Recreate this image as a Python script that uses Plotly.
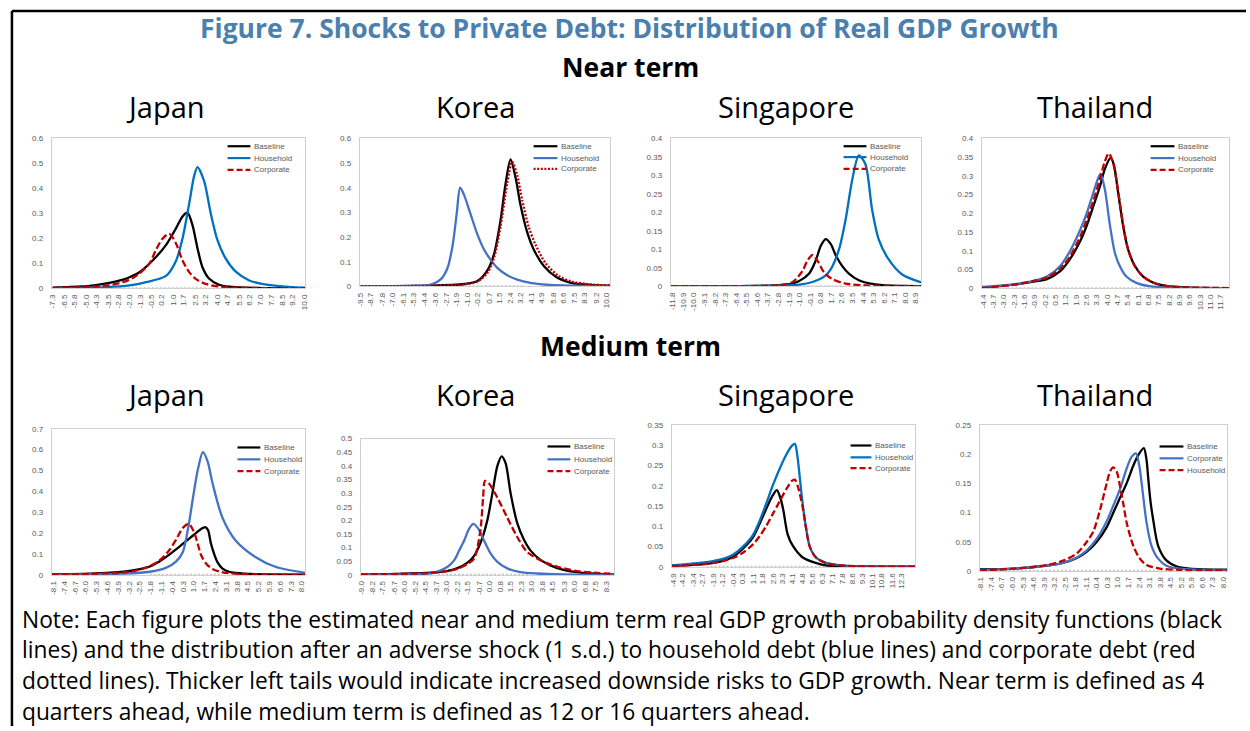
import plotly.graph_objects as go

W, H = 1250, 731

# ------------------------------------------------------------------ DATA ----
# x tick labels (GDP growth, %)
jp_nt_ticks = [-7.3, -6.5, -5.8, -5.0, -4.3, -3.5, -2.8, -2.0, -1.3, -0.5, 0.2, 1.0, 1.7, 2.5, 3.2, 4.0, 4.7, 5.5, 6.2, 7.0, 7.7, 8.5, 9.2, 10.0]
kr_nt_ticks = [-9.5, -8.7, -7.8, -7.0, -6.1, -5.3, -4.4, -3.6, -2.7, -1.9, -1.0, -0.2, 0.7, 1.5, 2.4, 3.2, 4.1, 4.9, 5.8, 6.6, 7.5, 8.3, 9.2, 10.0]
sg_nt_ticks = [-11.8, -10.9, -10.0, -9.1, -8.2, -7.3, -6.4, -5.5, -4.6, -3.7, -2.8, -1.9, -1.0, -0.1, 0.8, 1.7, 2.6, 3.5, 4.4, 5.3, 6.2, 7.1, 8.0, 8.9]
th_nt_ticks = [-4.4, -3.7, -3.0, -2.3, -1.6, -0.9, -0.2, 0.5, 1.2, 1.9, 2.6, 3.3, 4.0, 4.7, 5.4, 6.1, 6.8, 7.5, 8.2, 8.9, 9.6, 10.3, 11.0, 11.7]
jp_mt_ticks = [-8.1, -7.4, -6.7, -6.0, -5.3, -4.6, -3.9, -3.2, -2.5, -1.8, -1.1, -0.4, 0.3, 1.0, 1.7, 2.4, 3.1, 3.8, 4.5, 5.2, 5.9, 6.6, 7.3, 8.0]
kr_mt_ticks = [-9.0, -8.2, -7.5, -6.7, -6.0, -5.2, -4.5, -3.7, -3.0, -2.2, -1.5, -0.7, 0.0, 0.8, 1.5, 2.3, 3.0, 3.8, 4.5, 5.3, 6.0, 6.8, 7.5, 8.3]
sg_mt_ticks = [-4.9, -4.2, -3.4, -2.7, -1.9, -1.2, -0.4, 0.3, 1.1, 1.8, 2.6, 3.3, 4.1, 4.8, 5.6, 6.3, 7.1, 7.8, 8.6, 9.3, 10.1, 10.8, 11.6, 12.3]
th_mt_ticks = [-8.1, -7.4, -6.7, -6.0, -5.3, -4.6, -3.9, -3.2, -2.5, -1.8, -1.1, -0.4, 0.3, 1.0, 1.7, 2.4, 3.1, 3.8, 4.5, 5.2, 5.9, 6.6, 7.3, 8.0]

# Japan, near term
jp_nt_base_x = [-7.3, -4.75, -3.61, -2.47, -1.91, -1.34, -0.20, 0.48, 1.17, 1.62, 1.96, 2.30, 2.65, 2.99, 3.44, 4.13, 4.81, 6.63, 10.04]
jp_nt_base_y = [0.003, 0.010, 0.020, 0.035, 0.048, 0.065, 0.126, 0.173, 0.240, 0.288, 0.303, 0.254, 0.160, 0.085, 0.040, 0.015, 0.007, 0.002, 0.001]
jp_nt_hh_x = [-7.3, -3.61, -2.02, -0.88, 0.48, 1.17, 1.62, 2.08, 2.42, 2.65, 3.10, 3.56, 4.01, 4.58, 5.26, 6.17, 7.08, 8.91, 10.04]
jp_nt_hh_y = [0.001, 0.005, 0.012, 0.025, 0.050, 0.110, 0.200, 0.340, 0.450, 0.485, 0.430, 0.300, 0.195, 0.120, 0.068, 0.033, 0.018, 0.006, 0.003]
jp_nt_corp_x = [-7.3, -3.61, -2.47, -1.79, -1.34, -0.65, -0.20, 0.26, 0.71, 1.17, 1.62, 2.08, 2.53, 3.22, 4.35, 6.63, 10.04]
jp_nt_corp_y = [0.002, 0.012, 0.025, 0.042, 0.060, 0.100, 0.155, 0.200, 0.218, 0.180, 0.112, 0.065, 0.038, 0.018, 0.006, 0.002, 0.001]

# Korea, near term
kr_nt_base_x = [-9.5, -3.91, -1.28, -0.22, 0.57, 1.09, 1.62, 2.01, 2.41, 2.81, 3.20, 3.73, 4.25, 5.05, 6.10, 7.15, 8.73, 10.32]
kr_nt_base_y = [0.001, 0.003, 0.010, 0.022, 0.065, 0.130, 0.270, 0.415, 0.515, 0.440, 0.330, 0.220, 0.150, 0.083, 0.036, 0.016, 0.006, 0.003]
kr_nt_hh_x = [-9.5, -5.23, -3.91, -3.12, -2.60, -2.20, -1.86, -1.60, -1.28, -0.75, -0.22, 0.30, 0.83, 1.36, 2.15, 2.94, 3.99, 5.31, 6.63, 10.32]
kr_nt_hh_y = [0.001, 0.003, 0.008, 0.030, 0.075, 0.165, 0.300, 0.400, 0.370, 0.290, 0.210, 0.150, 0.108, 0.075, 0.045, 0.028, 0.015, 0.007, 0.004, 0.001]
kr_nt_corp_x = [-9.5, -3.91, -1.28, -0.22, 0.57, 1.09, 1.62, 2.15, 2.54, 2.94, 3.33, 3.86, 4.39, 5.18, 6.23, 7.28, 8.87, 10.32]
kr_nt_corp_y = [0.001, 0.003, 0.009, 0.020, 0.055, 0.115, 0.245, 0.420, 0.505, 0.450, 0.350, 0.240, 0.170, 0.095, 0.043, 0.020, 0.008, 0.004]

# Singapore, near term
sg_nt_base_x = [-11.97, -6.10, -2.16, -1.03, -0.18, 0.38, 0.81, 1.23, 1.65, 2.07, 2.64, 3.20, 4.05, 5.18, 6.87, 9.35]
sg_nt_base_y = [0.001, 0.001, 0.005, 0.015, 0.035, 0.070, 0.110, 0.128, 0.115, 0.085, 0.055, 0.035, 0.017, 0.007, 0.002, 0.001]
sg_nt_hh_x = [-11.97, -1.03, 0.10, 1.23, 1.65, 2.36, 2.92, 3.48, 4.05, 4.61, 5.18, 5.74, 6.59, 7.71, 9.35]
sg_nt_hh_y = [0.001, 0.005, 0.012, 0.030, 0.046, 0.100, 0.180, 0.287, 0.354, 0.330, 0.207, 0.127, 0.073, 0.033, 0.011]
sg_nt_corp_x = [-11.97, -2.72, -1.59, -0.75, -0.32, 0.10, 0.52, 1.09, 1.79, 2.92, 4.61, 9.35]
sg_nt_corp_y = [0.001, 0.004, 0.012, 0.042, 0.070, 0.085, 0.070, 0.038, 0.020, 0.008, 0.003, 0.001]

# Thailand, near term
th_nt_base_x = [-4.49, -2.31, -0.97, -0.07, 0.83, 1.50, 2.17, 2.62, 3.07, 3.52, 3.85, 4.24, 4.46, 4.75, 5.09, 5.42, 5.87, 6.43, 7.11, 8.00, 9.35, 12.27]
th_nt_base_y = [0.002, 0.010, 0.018, 0.025, 0.046, 0.079, 0.125, 0.167, 0.219, 0.272, 0.318, 0.348, 0.330, 0.256, 0.167, 0.105, 0.061, 0.032, 0.016, 0.007, 0.003, 0.001]
th_nt_hh_x = [-4.49, -2.31, -0.97, -0.07, 0.83, 1.50, 2.17, 2.62, 3.07, 3.41, 3.56, 3.85, 4.19, 4.53, 4.86, 5.31, 5.99, 6.88, 8.45, 12.27]
th_nt_hh_y = [0.004, 0.011, 0.020, 0.032, 0.060, 0.100, 0.155, 0.200, 0.255, 0.295, 0.305, 0.265, 0.170, 0.095, 0.060, 0.032, 0.015, 0.006, 0.002, 0.001]
th_nt_corp_x = [-4.49, -2.31, -0.97, -0.07, 0.83, 1.50, 2.17, 2.62, 3.07, 3.52, 3.85, 4.12, 4.41, 4.75, 5.09, 5.42, 5.87, 6.43, 7.11, 8.00, 9.35, 12.27]
th_nt_corp_y = [0.001, 0.010, 0.020, 0.029, 0.052, 0.086, 0.137, 0.182, 0.233, 0.292, 0.338, 0.360, 0.335, 0.260, 0.170, 0.105, 0.060, 0.032, 0.016, 0.007, 0.003, 0.001]

# Japan, medium term
jp_mt_base_x = [-8.21, -5.70, -3.56, -2.49, -1.85, -1.21, -0.57, 0.07, 0.72, 1.14, 1.47, 1.74, 1.92, 2.11, 2.32, 2.54, 2.86, 3.28, 3.71, 5.00, 8.21]
jp_mt_base_y = [0.003, 0.006, 0.015, 0.028, 0.040, 0.065, 0.098, 0.135, 0.175, 0.200, 0.220, 0.229, 0.215, 0.150, 0.100, 0.060, 0.030, 0.015, 0.009, 0.003, 0.001]
jp_mt_hh_x = [-8.21, -3.56, -1.85, -0.78, -0.14, 0.29, 0.67, 0.97, 1.25, 1.59, 1.89, 2.21, 2.85, 3.71, 4.99, 6.28, 8.21]
jp_mt_hh_y = [0.001, 0.006, 0.015, 0.035, 0.065, 0.110, 0.240, 0.380, 0.500, 0.588, 0.545, 0.440, 0.275, 0.165, 0.086, 0.039, 0.010]
jp_mt_corp_x = [-8.21, -3.56, -2.49, -1.85, -1.21, -0.57, -0.14, 0.29, 0.67, 1.04, 1.25, 1.47, 1.79, 2.21, 2.86, 3.93, 5.00, 8.21]
jp_mt_corp_y = [0.001, 0.012, 0.025, 0.042, 0.070, 0.120, 0.170, 0.225, 0.245, 0.200, 0.150, 0.095, 0.055, 0.028, 0.012, 0.005, 0.002, 0.001]

# Korea, medium term
kr_mt_base_x = [-9.05, -6.43, -4.09, -2.92, -2.22, -1.52, -1.05, -0.58, -0.12, 0.24, 0.59, 0.89, 1.17, 1.52, 1.99, 2.46, 2.92, 3.63, 4.33, 5.26, 6.43, 7.60, 8.82]
kr_mt_base_y = [0.002, 0.004, 0.008, 0.015, 0.025, 0.045, 0.070, 0.120, 0.200, 0.300, 0.400, 0.435, 0.410, 0.300, 0.190, 0.130, 0.090, 0.055, 0.035, 0.018, 0.008, 0.004, 0.002]
kr_mt_hh_x = [-9.05, -5.26, -4.09, -2.92, -2.45, -2.10, -1.75, -1.40, -1.10, -0.70, -0.35, 0.12, 0.59, 1.29, 2.22, 3.39, 5.26, 8.82]
kr_mt_hh_y = [0.001, 0.003, 0.006, 0.030, 0.054, 0.090, 0.126, 0.170, 0.187, 0.165, 0.126, 0.078, 0.048, 0.024, 0.010, 0.005, 0.002, 0.001]
kr_mt_corp_x = [-9.05, -4.09, -2.92, -2.22, -1.52, -1.05, -0.82, -0.58, -0.42, -0.28, 0.00, 0.59, 1.29, 1.99, 2.69, 3.39, 4.09, 5.03, 6.20, 7.60, 8.82]
kr_mt_corp_y = [0.001, 0.007, 0.014, 0.022, 0.040, 0.060, 0.100, 0.175, 0.280, 0.345, 0.335, 0.283, 0.210, 0.139, 0.084, 0.060, 0.043, 0.027, 0.014, 0.007, 0.004]

# Singapore, medium term
sg_mt_base_x = [-5.02, -2.41, -1.16, -0.41, 0.34, 1.08, 1.58, 2.08, 2.58, 2.90, 3.20, 3.38, 3.70, 4.08, 4.82, 5.82, 6.57, 7.57, 13.30]
sg_mt_base_y = [0.003, 0.008, 0.015, 0.025, 0.045, 0.072, 0.105, 0.142, 0.176, 0.189, 0.165, 0.140, 0.081, 0.053, 0.024, 0.010, 0.004, 0.002, 0.001]
sg_mt_hh_x = [-5.02, -2.41, -1.16, -0.41, 0.34, 1.08, 1.58, 2.08, 2.58, 3.08, 3.58, 4.02, 4.25, 4.45, 4.62, 4.82, 5.07, 5.37, 5.82, 6.57, 8.06, 13.30]
sg_mt_hh_y = [0.004, 0.012, 0.020, 0.030, 0.050, 0.078, 0.112, 0.155, 0.200, 0.240, 0.275, 0.298, 0.303, 0.270, 0.220, 0.160, 0.100, 0.050, 0.024, 0.010, 0.003, 0.001]
sg_mt_corp_x = [-5.02, -2.41, -1.16, -0.41, 0.34, 1.08, 1.58, 2.08, 2.58, 3.08, 3.58, 4.02, 4.25, 4.50, 4.82, 5.07, 5.37, 5.82, 6.57, 8.06, 13.30]
sg_mt_corp_y = [0.002, 0.008, 0.015, 0.022, 0.035, 0.055, 0.075, 0.100, 0.130, 0.160, 0.190, 0.212, 0.215, 0.195, 0.150, 0.100, 0.050, 0.024, 0.010, 0.003, 0.001]

# Thailand, medium term (legend order: Baseline, Corporate, Household)
th_mt_base_x = [-8.17, -5.90, -3.70, -2.60, -1.72, -1.06, -0.40, 0.26, 0.70, 1.14, 1.58, 2.02, 2.35, 2.72, 2.90, 3.01, 3.16, 3.34, 3.67, 4.22, 4.88, 5.76, 8.25]
th_mt_base_y = [0.003, 0.004, 0.009, 0.014, 0.022, 0.033, 0.050, 0.075, 0.100, 0.125, 0.150, 0.180, 0.198, 0.210, 0.190, 0.160, 0.120, 0.088, 0.043, 0.018, 0.008, 0.004, 0.002]
th_mt_corp_x = [-8.17, -5.90, -3.70, -2.60, -1.72, -1.06, -0.40, 0.26, 0.70, 1.14, 1.58, 1.91, 2.20, 2.42, 2.68, 2.90, 3.23, 3.67, 4.22, 5.10, 8.25]
th_mt_corp_y = [0.002, 0.004, 0.009, 0.014, 0.023, 0.035, 0.055, 0.085, 0.112, 0.140, 0.175, 0.195, 0.201, 0.180, 0.128, 0.083, 0.043, 0.021, 0.009, 0.004, 0.001]
th_mt_hh_x = [-8.17, -5.90, -3.70, -2.60, -1.72, -1.06, -0.62, -0.18, 0.26, 0.48, 0.70, 0.92, 1.14, 1.36, 1.58, 2.02, 2.46, 2.90, 3.78, 5.10, 8.25]
th_mt_hh_y = [0.001, 0.004, 0.010, 0.018, 0.030, 0.050, 0.068, 0.105, 0.150, 0.170, 0.177, 0.170, 0.145, 0.115, 0.083, 0.043, 0.021, 0.010, 0.004, 0.002, 0.001]

# light grey dotted band lying on the zero line (x extent)
jp_nt_zero = [-2.7, 3.4]
kr_nt_zero = [-9.5, 3.5]
sg_nt_zero = [-11.9, 2.6]
th_nt_zero = [-3.3, 7.6]
jp_mt_zero = [-1.85, 2.85]
kr_mt_zero = [-3.6, 2.9]
sg_mt_zero = [-2.4, 13.2]
th_mt_zero = [-8.1, 8.2]

# ------------------------------------------------------------- STYLES ------
BLACK = "#000000"
BLUE_A = "#0070C0"
BLUE_B = "#4472C4"
RED = "#C00000"
DASH = "7px,3px"
DOT = "2px,1.6px"
LEG_DASH = "6px,3px"
TICK_COL = "#595959"
FONT = "Open Sans"
SMALL = "Liberation Sans"

panels = [
    dict(dom=(48, 303, 136, 288), xr=(-7.37, 10.04), yr=(0, 0.6), dy=0.1, ticks=jp_nt_ticks, zero=jp_nt_zero,
         series=[("Baseline", jp_nt_base_x, jp_nt_base_y, BLACK, "solid"),
                 ("Household", jp_nt_hh_x, jp_nt_hh_y, BLUE_A, "solid"),
                 ("Corporate", jp_nt_corp_x, jp_nt_corp_y, RED, DASH)],
         leg=(225, 248, 250, [144, 156, 168])),
    dict(dom=(358, 610, 136, 286), xr=(-9.58, 10.32), yr=(0, 0.6), dy=0.1, ticks=kr_nt_ticks, zero=kr_nt_zero,
         series=[("Baseline", kr_nt_base_x, kr_nt_base_y, BLACK, "solid"),
                 ("Household", kr_nt_hh_x, kr_nt_hh_y, BLUE_B, "solid"),
                 ("Corporate", kr_nt_corp_x, kr_nt_corp_y, RED, DOT)],
         leg=(533, 557, 559, [144, 156, 167])),
    dict(dom=(671, 923, 136, 286), xr=(-11.97, 9.35), yr=(0, 0.4), dy=0.05, ticks=sg_nt_ticks, zero=sg_nt_zero,
         series=[("Baseline", sg_nt_base_x, sg_nt_base_y, BLACK, "solid"),
                 ("Household", sg_nt_hh_x, sg_nt_hh_y, BLUE_A, "solid"),
                 ("Corporate", sg_nt_corp_x, sg_nt_corp_y, RED, DASH)],
         leg=(845, 868, 870, [144, 155, 167])),
    dict(dom=(984, 1233, 136, 288), xr=(-4.49, 12.27), yr=(0, 0.4), dy=0.05, ticks=th_nt_ticks, zero=th_nt_zero,
         series=[("Baseline", th_nt_base_x, th_nt_base_y, BLACK, "solid"),
                 ("Household", th_nt_hh_x, th_nt_hh_y, BLUE_B, "solid"),
                 ("Corporate", th_nt_corp_x, th_nt_corp_y, RED, DASH)],
         leg=(1154, 1178, 1180, [144, 156, 168])),
    dict(dom=(48, 303, 430, 578), xr=(-8.21, 8.21), yr=(0, 0.7), dy=0.1, ticks=jp_mt_ticks, zero=jp_mt_zero,
         series=[("Baseline", jp_mt_base_x, jp_mt_base_y, BLACK, "solid"),
                 ("Household", jp_mt_hh_x, jp_mt_hh_y, BLUE_B, "solid"),
                 ("Corporate", jp_mt_corp_x, jp_mt_corp_y, RED, DASH)],
         leg=(235, 258, 260, [449, 461, 473])),
    dict(dom=(359, 614, 440, 578), xr=(-9.05, 8.82), yr=(0, 0.5), dy=0.05, ticks=kr_mt_ticks, zero=kr_mt_zero,
         series=[("Baseline", kr_mt_base_x, kr_mt_base_y, BLACK, "solid"),
                 ("Household", kr_mt_hh_x, kr_mt_hh_y, BLUE_B, "solid"),
                 ("Corporate", kr_mt_corp_x, kr_mt_corp_y, RED, DASH)],
         leg=(547, 570, 572, [448, 461, 473])),
    dict(dom=(672, 917, 426, 570), xr=(-5.02, 13.30), yr=(0, 0.35), dy=0.05, ticks=sg_mt_ticks, zero=sg_mt_zero,
         series=[("Baseline", sg_mt_base_x, sg_mt_base_y, BLACK, "solid"),
                 ("Household", sg_mt_hh_x, sg_mt_hh_y, BLUE_A, "solid"),
                 ("Corporate", sg_mt_corp_x, sg_mt_corp_y, RED, DASH)],
         leg=(852, 873, 875, [447, 459, 470])),
    dict(dom=(982, 1231, 426, 574), xr=(-8.17, 8.25), yr=(0, 0.25), dy=0.05, ticks=th_mt_ticks, zero=th_mt_zero,
         series=[("Baseline", th_mt_base_x, th_mt_base_y, BLACK, "solid"),
                 ("Corporate", th_mt_corp_x, th_mt_corp_y, BLUE_B, "solid"),
                 ("Household", th_mt_hh_x, th_mt_hh_y, RED, DASH)],
         leg=(1163, 1187, 1189, [448, 460, 472])),
]


def px(x):
    return x / W


def py(y):
    return 1 - y / H


fig = go.Figure()
layout = dict(width=W, height=H, margin=dict(l=0, r=0, t=0, b=0),
              paper_bgcolor="white", plot_bgcolor="white", showlegend=False,
              font=dict(family=FONT, color="#000000"))
shapes, annotations = [], []

for i, p in enumerate(panels, start=1):
    sfx = "" if i == 1 else str(i)
    xa, ya = "x" + sfx, "y" + sfx
    x0, x1, y0, y1 = p["dom"]
    layout["xaxis" + sfx] = dict(
        domain=[px(x0), px(x1)], range=list(p["xr"]), anchor=ya,
        tickmode="array", tickvals=p["ticks"], ticktext=[f"{v:.1f}" for v in p["ticks"]],
        tickangle=-90, tickfont=dict(size=8, color=TICK_COL, family=SMALL),
        showgrid=False, zeroline=False, showline=True, linecolor="#d0d0d0", linewidth=1,
        mirror=True, ticks="", ticklabelstandoff=2)
    layout["yaxis" + sfx] = dict(
        domain=[py(y1), py(y0)], range=list(p["yr"]), anchor=xa,
        dtick=p["dy"], tick0=0, tickfont=dict(size=8, color=TICK_COL, family=SMALL),
        showgrid=False, zeroline=False, showline=True, linecolor="#d0d0d0", linewidth=1,
        mirror=True, ticks="", ticklabelstandoff=6)
    # grey dotted band on the zero line
    fig.add_trace(go.Scatter(x=p["zero"], y=[0.0, 0.0], xaxis=xa, yaxis=ya, mode="lines",
                             line=dict(color="#c4c4c4", width=2.5, dash="2px,2px"),
                             hoverinfo="skip", cliponaxis=False))
    for name, xs, ys, col, dash in p["series"]:
        fig.add_trace(go.Scatter(x=xs, y=ys, xaxis=xa, yaxis=ya, mode="lines", name=name,
                                 line=dict(color=col, width=2.3, dash=dash, shape="spline", smoothing=0.8)))
    # legend block
    lx0, lx1, tx, rows = p["leg"]
    for (name, xs, ys, col, dash), ry in zip(p["series"], rows):
        shapes.append(dict(type="line", xref="paper", yref="paper", x0=px(lx0), x1=px(lx1),
                           y0=py(ry), y1=py(ry),
                           line=dict(color=col, width=2.2,
                                     dash=(LEG_DASH if dash == DASH else ("2px,1.6px" if dash == DOT else "solid")))))
        annotations.append(dict(text=name, xref="paper", yref="paper", x=px(tx), y=py(ry),
                                xanchor="left", yanchor="middle", showarrow=False,
                                font=dict(size=8, color=TICK_COL, family=SMALL)))

# titles
annotations.append(dict(text="<b>Figure 7. Shocks to Private Debt: Distribution of Real GDP Growth</b>",
                        xref="paper", yref="paper", x=px(630), y=py(24), xanchor="center", yanchor="middle",
                        showarrow=False, font=dict(size=26.5, color="#4a7fae", family=FONT)))
for txt, yy in [("Near term", 64), ("Medium term", 346)]:
    annotations.append(dict(text=f"<b>{txt}</b>", xref="paper", yref="paper", x=px(631), y=py(yy),
                            xanchor="center", yanchor="middle", showarrow=False,
                            font=dict(size=26.5, color="#000000", family=FONT)))
countries = ["Japan", "Korea", "Singapore", "Thailand"]
cx = [163, 475, 787, 1098]
for row_y in [104, 395]:
    for c, x in zip(countries, cx):
        annotations.append(dict(text=c, xref="paper", yref="paper", x=px(x), y=py(row_y),
                                xanchor="center", yanchor="middle", showarrow=False,
                                font=dict(size=29, color="#000000", family=FONT)))

note_lines = [
    "Note: Each figure plots the estimated near and medium term real GDP growth probability density functions (black",
    "lines) and the distribution after an adverse shock (1 s.d.) to household debt (blue lines) and corporate debt (red",
    "dotted lines). Thicker left tails would indicate increased downside risks to GDP growth. Near term is defined as 4",
    "quarters ahead, while medium term is defined as 12 or 16 quarters ahead.",
]
for line, yy in zip(note_lines, [623, 654, 685, 716]):
    annotations.append(dict(text=line, xref="paper", yref="paper", x=px(16), y=py(yy),
                            xanchor="left", yanchor="middle", showarrow=False,
                            font=dict(size=22.75, color="#000000", family=FONT)))

# outer frame (top and left edges)
shapes.append(dict(type="line", xref="paper", yref="paper", x0=px(8), x1=1, y0=py(7), y1=py(7),
                   line=dict(color="#000000", width=2.5)))
shapes.append(dict(type="line", xref="paper", yref="paper", x0=px(8), x1=px(8), y0=py(7), y1=0,
                   line=dict(color="#000000", width=2.5)))

layout["shapes"] = shapes
layout["annotations"] = annotations
fig.update_layout(**layout)
fig.write_html("out.html", config={"displayModeBar": False, "staticPlot": True},
               post_script="document.body.style.margin='0';document.body.style.overflow='hidden';")
